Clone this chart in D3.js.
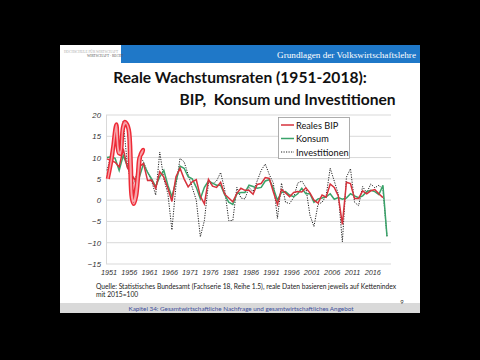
<!DOCTYPE html>
<html><head><meta charset="utf-8">
<script src="https://cdn.jsdelivr.net/npm/d3@7"></script>
<style>html,body{margin:0;padding:0;background:#000;}svg{display:block;}</style>
</head><body>
<script>
const years = d3.range(1951, 2021);
const bip = [9.7,9.3,8.9,7.8,12.1,7.7,6.1,4.5,7.9,8.6,4.6,4.7,2.8,6.7,5.4,2.8,-0.3,5.5,7.5,5.0,3.1,4.3,4.8,0.9,-0.9,4.9,3.3,3.0,4.2,1.4,0.5,-0.4,1.6,2.8,2.3,2.3,1.4,3.7,3.9,5.3,5.1,1.9,-1.0,2.5,1.7,0.8,1.8,2.0,1.9,2.9,1.7,0.0,-0.7,1.2,0.7,3.8,3.0,1.0,-5.7,4.2,3.9,0.4,0.4,2.2,1.5,2.2,2.5,1.5,0.6,null];
const konsum = [10.0,10.2,9.8,7.0,10.5,8.0,5.8,4.8,5.5,8.6,6.5,5.0,3.2,5.5,7.0,3.5,0.8,4.5,8.0,7.5,5.5,5.0,3.0,0.3,3.0,4.5,4.0,3.5,3.5,1.3,-0.5,-1.0,1.5,1.8,1.8,3.5,3.2,2.8,3.0,4.5,4.8,2.8,0.0,1.8,2.0,1.2,0.8,1.5,2.8,1.5,1.5,-0.5,0.3,0.5,0.8,1.5,0.2,0.6,0.2,0.5,1.5,1.0,0.6,1.0,2.0,2.3,2.0,1.3,3.5,-8.5];
const invest = [7.0,10.5,17.5,11.0,18.5,8.5,3.5,4.5,10.5,9.0,6.5,4.5,1.2,11.3,5.0,1.5,-7.0,3.5,9.8,9.0,6.0,3.0,0.0,-8.6,-4.8,4.0,3.8,4.5,6.5,2.5,-4.8,-4.8,3.0,0.5,0.3,3.0,2.0,4.5,7.0,8.5,6.0,4.0,-4.3,4.0,-0.5,-0.8,0.6,4.0,4.5,3.0,-3.5,-6.2,-1.0,-0.5,1.0,7.5,4.5,1.4,-9.8,5.4,7.4,-0.5,-1.3,3.2,1.7,3.8,2.9,3.5,2.5,-8.5];
const yTicks = [20,15,10,5,0,-5,-10,-15];
const xTickYears = d3.range(1951, 2017, 5);
const seriesNames = ["Reales BIP","Konsum","Investitionen"];
// hand-drawn highlight loop over the 1950s (year, value)
const scribble = [[1951.2,5],[1952.2,10],[1953.3,17.8],[1953.8,12],[1954.3,10.8],[1954.9,17],[1955.4,18.4],[1956.2,17],[1956.7,8],[1957.1,0.5],[1957.6,-0.9],[1958.2,1],[1958.8,7],[1959.3,10.8],[1959.9,11.8],[1959.6,11],[1959,10],[1958.6,6],[1958,1.5],[1957.6,-0.3],[1957.2,1],[1956.9,8],[1956.4,16.5],[1955.8,18],[1955.3,17.8],[1954.8,16],[1954.4,11.5],[1953.9,11],[1953.5,14],[1953.2,17],[1952.6,13],[1951.8,8],[1951.4,6]];

const W=480,H=360;
const svg=d3.select("body").append("svg").attr("width",W).attr("height",H);
svg.append("rect").attr("width",W).attr("height",H).attr("fill","#000");
// slide
svg.append("rect").attr("x",60).attr("y",45).attr("width",360).attr("height",268).attr("fill","#fff");
svg.append("rect").attr("x",121).attr("y",45).attr("width",299).attr("height",18).attr("fill","#1f78c8");
svg.append("text").attr("x",416).attr("y",57.5).attr("text-anchor","end").attr("fill","#fff")
  .attr("font-family","Liberation Serif, DejaVu Serif, serif").attr("font-size",9.2).text("Grundlagen der Volkswirtschaftslehre");
svg.append("text").attr("x",64).attr("y",52.5).attr("fill","#aaa").attr("font-family","Liberation Serif, serif").attr("font-size",3.5).text("HOCHSCHULE FÜR WIRTSCHAFT");
svg.append("text").attr("x",87).attr("y",56.5).attr("fill","#555").attr("font-family","Liberation Serif, serif").attr("font-size",3.5).text("WIRTSCHAFT · RECHT");
// footer
svg.append("rect").attr("x",60).attr("y",303).attr("width",360).attr("height",10).attr("fill","#d9d9d9");
svg.append("text").attr("x",241).attr("y",310.5).attr("text-anchor","middle").attr("fill","#3b4d9a")
  .attr("font-family","Lato, Open Sans, sans-serif").attr("font-size",6.3).text("Kapitel 34: Gesamtwirtschaftliche Nachfrage und gesamtwirtschaftliches Angebot");
svg.append("text").attr("x",402).attr("y",304).attr("text-anchor","middle").attr("fill","#333")
  .attr("font-family","Lato, sans-serif").attr("font-size",6).text("9");
// title
const tf="Lato, Open Sans, sans-serif";
const af="Liberation Sans, Arial, sans-serif";
svg.append("text").attr("x",240).attr("y",83).attr("text-anchor","middle").attr("font-family",tf).attr("font-weight","bold").attr("font-size",15.6).attr("fill","#111").text("Reale Wachstumsraten (1951-2018):");
svg.append("text").attr("x",287.5).attr("y",105).attr("text-anchor","middle").attr("font-family",tf).attr("font-weight","bold").attr("font-size",15.6).attr("fill","#111").attr("xml:space","preserve").text("BIP,  Konsum und Investitionen");
// source
svg.append("text").attr("x",96).attr("y",289).attr("font-family",tf).attr("font-size",6.7).attr("fill","#222").text("Quelle: Statistisches Bundesamt (Fachserie 18, Reihe 1.5), reale Daten basieren jeweils auf Kettenindex");
svg.append("text").attr("x",96).attr("y",296.5).attr("font-family",tf).attr("font-size",6.7).attr("fill","#222").text("mit 2015=100");

// chart
const x=d3.scaleLinear().domain([1951,2020]).range([107,387]);
const y=d3.scaleLinear().domain([-15,20]).range([264,115]);
const g=svg.append("g");
g.selectAll("line.grid").data(yTicks).join("line").attr("class","grid")
  .attr("x1",106).attr("x2",391).attr("y1",d=>y(d)).attr("y2",d=>y(d)).attr("stroke","#d9d9d9").attr("stroke-width",1);
g.append("line").attr("x1",106.5).attr("x2",106.5).attr("y1",y(20)).attr("y2",y(-15)).attr("stroke","#d9d9d9");
const yAxis=d3.axisLeft(y).tickValues(yTicks).tickSize(0).tickPadding(5);
const ya=svg.append("g").attr("transform","translate(106,0)").call(yAxis);
ya.select(".domain").remove();
ya.selectAll("text").attr("font-family",af).attr("font-style","italic").attr("font-size",7.8).attr("fill","#333");
const xAxis=d3.axisBottom(x).tickValues(xTickYears).tickFormat(d3.format("d")).tickSize(0).tickPadding(6);
const xa=svg.append("g").attr("transform",`translate(1.5,${y(-15)})`).call(xAxis);
xa.select(".domain").remove();
xa.selectAll("text").attr("font-family",af).attr("font-style","italic").attr("font-size",7.3).attr("fill","#333");

const line=d3.line().defined(d=>d!==null).x((d,i)=>x(years[i])).y(d=>y(d));
g.append("path").datum(invest).attr("d",line).attr("fill","none").attr("stroke","#222").attr("stroke-width",1).attr("stroke-dasharray","1.2,1.3");
g.append("path").datum(konsum).attr("d",line).attr("fill","none").attr("stroke","#3aa36a").attr("stroke-width",1.5);
g.append("path").datum(bip).attr("d",line).attr("fill","none").attr("stroke","#d6323c").attr("stroke-width",1.5);
// scribble
const sl=d3.line().x(d=>x(d[0])).y(d=>y(d[1])).curve(d3.curveCatmullRom);
g.append("path").datum(scribble).attr("d",sl).attr("fill","none").attr("stroke","#ee2a36").attr("stroke-width",4.2).attr("stroke-linejoin","round");
g.append("path").datum(scribble).attr("d",sl).attr("fill","none").attr("stroke","#f7a6ab").attr("stroke-width",1.3).attr("stroke-linejoin","round");

// legend
const lg=svg.append("g");
lg.append("rect").attr("x",278.5).attr("y",117.5).attr("width",71).attr("height",41).attr("fill","#fff").attr("stroke","#999").attr("stroke-width",0.8);
const lc=[{c:"#d6323c",d:null,w:1.5},{c:"#3aa36a",d:null,w:1.5},{c:"#222",d:"1.2,1.3",w:1}];
seriesNames.forEach((n,i)=>{
  const yy=125+i*13.5;
  lg.append("line").attr("x1",281).attr("x2",294).attr("y1",yy).attr("y2",yy).attr("stroke",lc[i].c).attr("stroke-width",lc[i].w).attr("stroke-dasharray",lc[i].d);
  lg.append("text").attr("x",296).attr("y",yy+3.5).attr("font-family",tf).attr("font-size",9.2).attr("fill","#111").text(n);
});
</script>
</body></html>
